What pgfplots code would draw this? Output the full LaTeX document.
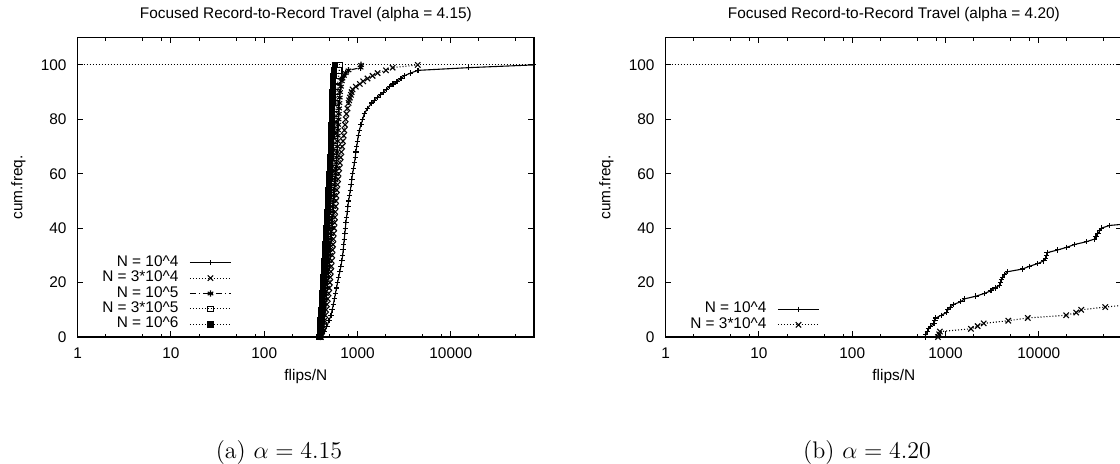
\documentclass[border=0pt]{standalone}
\usepackage{fontspec}
\newfontfamily\gp{Liberation Sans}
\usepackage{pgfplots}
\pgfplotsset{compat=1.18}
\newcommand{\gpf}{\gp\fontsize{7.7}{9}\selectfont}
\tikzset{
  gpdot/.style={dash pattern=on 0.5pt off 1pt},
  gpdashdot/.style={dash pattern=on 3pt off 1.5pt on 0.5pt off 1.5pt},
}
\pgfplotsset{
  legend image code/.code={\draw[mark repeat=2,mark phase=2,#1] plot coordinates {(0pt,0pt) (10.25pt,0pt) (20.5pt,0pt)};},
  every axis plot/.append style={line width=0.55pt, black, mark size=1.35pt, mark options={solid}},
}
\begin{document}
\begin{tikzpicture}
\useasboundingbox (0pt,0pt) rectangle (560pt,-231.5pt);

% ---------------- left panel ----------------
\begin{axis}[at={(38.85pt,-18.85pt)}, anchor=north west,
    xmode=log, log basis x=10,
    scale only axis, width=228.15pt, height=149.65pt,
    xmin=1, xmax=78000, ymin=0, ymax=110,
    xtick={1,10,100,1000,10000},
    xticklabels={1,10,100,1000,10000},
    minor xtick={2,5,8,20,50,80,200,500,800,2000,5000,8000,20000,50000},
    ytick={0,20,40,60,80,100},
    yticklabels={0,20,40,60,80,100},
    tick align=inside,
    major tick length=2.8pt, minor tick length=1.5pt,
    axis line style={line width=0.7pt},
    every tick/.append style={line width=0.5pt, black},
    tick label style={font=\gpf},
    /pgf/number format/assume math mode=true,
    xticklabel style={inner sep=0pt, yshift=-5.2pt},
    yticklabel style={inner sep=0pt, xshift=-5.4pt},
    legend plot pos=right,
    legend cell align=right,
    legend style={font=\gpf, draw=none, fill=none, inner sep=0pt, column sep=5.5pt, row sep=0pt,
      nodes={inner sep=0pt, text height=5.6pt, text depth=2.1pt}, anchor=north east, at={(0.338,0.2753)}},
  ]
\addplot[forget plot, gpdot, mark=none] coordinates {(1,100) (78000,100)};
\addplot[solid, mark=+] coordinates {
(420,0)(445,2)(470,4)(495,6)(520,8)(535,10)(550,12)(565,14)(580,16)(595,18)(610,20)(628,22)(646,24)(664,26)(680,28)(693,30)(702,32)(712,34)(721,36)(731,38)(741,40)(751,42)(763,44)(776,46)(789,48)(802,50)(820,52)(838,54)(855,56)(870,58)(885,60)(905,62)(925,64)(945,66)(960,68)(980,70)(1000,72)(1020,74)(1045,76)(1090,78)(1135,80)(1180,82)(1280,84)(1420,86)(1508,87)(1620,88)(1760,89)(1900,90)(2030,91)(2200,92)(2400,93)(2650,94)(2924,95)(3170,96)(3700,97)(4450,98)(15600,99)(77000,100)};
\addlegendentry{N = 10\textasciicircum 4}
\addplot[gpdot, mark=x, mark size=1.9pt] coordinates {
(405,0)(418,2)(430,4)(442,6)(452,8)(461,10)(471,12)(480,14)(490,16)(498,18)(505,20)(511,22)(517,24)(523,26)(529,28)(535,30)(540,32)(546,34)(551,36)(556,38)(562,40)(567,42)(572,44)(577,46)(583,48)(588,50)(594,52)(600,54)(609,56)(618,58)(627,60)(637,62)(648,64)(660,66)(672,68)(685,70)(698,72)(711,74)(723,76)(735,78)(747,80)(760,82)(780,84)(802,86)(813,87)(830,88)(850,89)(865,90)(883,91)(959,92)(1060,93)(1150,94)(1280,95)(1450,96)(1640,97)(2015,98)(2380,99)(4420,100)};
\addlegendentry{N = 3*10\textasciicircum 4}
\addplot[gpdashdot, mark=asterisk, mark size=1.6pt] coordinates {
(400,0)(406,2)(412,4)(418,6)(425,8)(431,10)(437,12)(444,14)(450,16)(457,18)(465,20)(470,22)(476,24)(481,26)(487,28)(492,30)(498,32)(503,34)(509,36)(514,38)(520,40)(525,42)(530,44)(535,46)(540,48)(545,50)(550,52)(555,54)(562,56)(570,58)(577,60)(585,62)(592,64)(600,66)(603,68)(607,70)(610,72)(614,74)(617,76)(621,78)(625,80)(630,82)(635,84)(640,86)(645,88)(650,90)(665,92)(680,94)(690,95)(715,96)(748,97)(800,98)(1080,99)(1090,100)};
\addlegendentry{N = 10\textasciicircum 5}
\addplot[gpdot, mark=square] coordinates {
(395,0)(400,2)(406,4)(411,6)(417,8)(422,10)(428,12)(433,14)(439,16)(444,18)(450,20)(455,22)(460,24)(465,26)(470,28)(475,30)(480,32)(485,34)(490,36)(495,38)(500,40)(504,42)(509,44)(513,46)(517,48)(521,50)(526,52)(530,54)(535,56)(540,58)(545,60)(550,62)(555,64)(560,66)(563,68)(566,70)(569,72)(571,74)(574,76)(577,78)(580,80)(584,82)(588,84)(592,86)(596,88)(600,90)(608,92)(616,94)(625,96)(637,98)(650,100)};
\addlegendentry{N = 3*10\textasciicircum 5}
\addplot[gpdot, mark=square*] coordinates {
(390,0)(394,2)(398,4)(402,6)(406,8)(410,10)(414,12)(418,14)(422,16)(426,18)(430,20)(434,22)(437,24)(441,26)(444,28)(448,30)(451,32)(455,34)(458,36)(462,38)(465,40)(469,42)(472,44)(476,46)(480,48)(483,50)(487,52)(490,54)(494,56)(498,58)(502,60)(506,62)(510,64)(515,66)(517,68)(519,70)(521,72)(523,74)(526,76)(528,78)(530,80)(532,82)(534,84)(536,86)(538,88)(540,90)(543,92)(547,94)(550,96)(558,98)(575,100)};
\addlegendentry{N = 10\textasciicircum 6}
\end{axis}

% ---------------- right panel ----------------
\begin{axis}[at={(332.85pt,-18.85pt)}, anchor=north west,
    xmode=log, log basis x=10,
    scale only axis, width=228.15pt, height=149.65pt,
    xmin=1, xmax=78000, ymin=0, ymax=110,
    xtick={1,10,100,1000,10000},
    xticklabels={1,10,100,1000,10000},
    minor xtick={2,5,8,20,50,80,200,500,800,2000,5000,8000,20000,50000},
    ytick={0,20,40,60,80,100},
    yticklabels={0,20,40,60,80,100},
    tick align=inside,
    major tick length=2.8pt, minor tick length=1.5pt,
    axis line style={line width=0.7pt},
    every tick/.append style={line width=0.5pt, black},
    tick label style={font=\gpf},
    /pgf/number format/assume math mode=true,
    xticklabel style={inner sep=0pt, yshift=-5.2pt},
    yticklabel style={inner sep=0pt, xshift=-5.4pt},
    legend plot pos=right,
    legend cell align=right,
    legend style={font=\gpf, draw=none, fill=none, inner sep=0pt, column sep=5.5pt, row sep=0pt,
      nodes={inner sep=0pt, text height=5.6pt, text depth=2.1pt}, anchor=north east, at={(0.338,0.1193)}},
  ]
\addplot[forget plot, gpdot, mark=none] coordinates {(1,100) (78000,100)};
\addplot[solid, mark=+] coordinates {
(605,0)(614,1)(640,2)(660,3)(690,4)(752,5)(770,6)(787,7)(900,8)(1024,9)(1060,10)(1120,11)(1225,12)(1462,13)(1590,14)(2118,15)(2600,16)(3070,17)(3400,18)(3775,19)(3900,20)(4000,21)(4100,22)(4300,23)(4645,24)(6730,25)(7925,26)(9770,27)(11320,28)(11800,29)(12100,30)(12300,31)(16000,32)(20000,33)(24150,34)(32300,35)(39650,36)(41000,37)(43000,38)(45000,39)(46770,40)(57500,41)(120000,42)};
\addlegendentry{N = 10\textasciicircum 4}
\addplot[gpdot, mark=x, mark size=1.9pt] coordinates {
(830,0)(855,1)(870,2)(1870,3)(2208,4)(2565,5)(4710,6)(7620,7)(19670,8)(25200,9)(28500,10)(51600,11)(100000,12)};
\addlegendentry{N = 3*10\textasciicircum 4}
\end{axis}

% ---------------- texts ----------------
\node[font=\gpf] at (152.925pt,-7.5pt) {Focused Record-to-Record Travel (alpha = 4.15)};
\node[font=\gpf] at (446.925pt,-7.5pt) {Focused Record-to-Record Travel (alpha = 4.20)};
\node[font=\gpf] at (152.925pt,-188.35pt) {flips/N};
\node[font=\gpf] at (446.925pt,-188.35pt) {flips/N};
\node[font=\gpf, rotate=90] at (9.25pt,-93.7pt) {cum.freq.};
\node[font=\gpf, rotate=90] at (303.25pt,-93.7pt) {cum.freq.};
\node[font=\fontsize{12}{14}\selectfont] at (139.5pt,-226.35pt) {(a) $\alpha = 4.15$};
\node[font=\fontsize{12}{14}\selectfont] at (433.5pt,-226.35pt) {(b) $\alpha = 4.20$};
\end{tikzpicture}
\end{document}
